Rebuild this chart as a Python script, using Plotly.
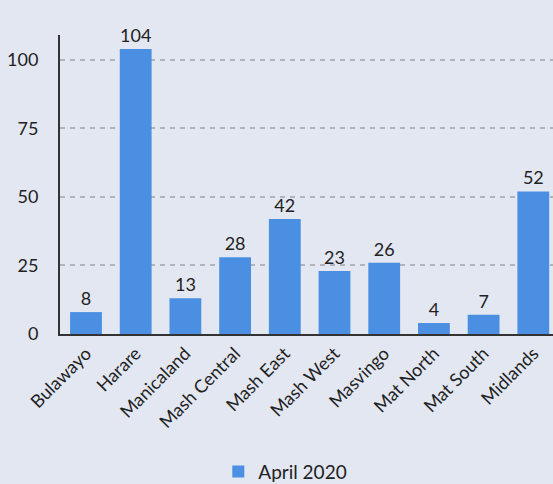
import plotly.graph_objects as go

provinces = ["Bulawayo", "Harare", "Manicaland", "Mash Central", "Mash East",
             "Mash West", "Masvingo", "Mat North", "Mat South", "Midlands"]
cases = [8, 104, 13, 28, 42, 23, 26, 4, 7, 52]
series_name = "April 2020"

BG = "#e2e7f2"
BAR = "#4a8fe2"
TXT = "#222222"
FS = 18

fig = go.Figure(go.Bar(
    x=provinces, y=cases, name=series_name,
    marker=dict(color=BAR, line=dict(width=0)),
    width=0.64,
    text=cases, textposition="outside", cliponaxis=False,
    textfont=dict(size=FS, color=TXT, family="Lato"),
    showlegend=True,
))

fig.update_layout(
    width=553, height=484,
    paper_bgcolor=BG, plot_bgcolor=BG,
    margin=dict(l=60, r=0, t=35, b=150, autoexpand=False),
    font=dict(family="Lato", size=FS, color=TXT),
    showlegend=True,
    legend=dict(orientation="h", x=0.457, xanchor="center", y=-0.46, yanchor="middle",
                font=dict(size=19, color=TXT, family="Lato"), bgcolor="rgba(0,0,0,0)"),
    xaxis=dict(
        range=[-0.523, 9.396], tickangle=-45, showgrid=False, automargin=False,
        showline=True, linecolor="#333333", linewidth=2,
        ticks="", tickfont=dict(size=FS, color=TXT, family="Lato"),
    ),
    yaxis=dict(
        range=[0, 109.1], tickvals=[0, 25, 50, 75, 100], automargin=False,
        showgrid=True, gridcolor="#b0b5bd", griddash="5px,5px", gridwidth=1.5,
        showline=True, linecolor="#333333", linewidth=2,
        zeroline=False, ticks="", ticklabelstandoff=16,
        tickfont=dict(size=FS, color=TXT, family="Lato"),
    ),
)

fig.write_html("out.html")
